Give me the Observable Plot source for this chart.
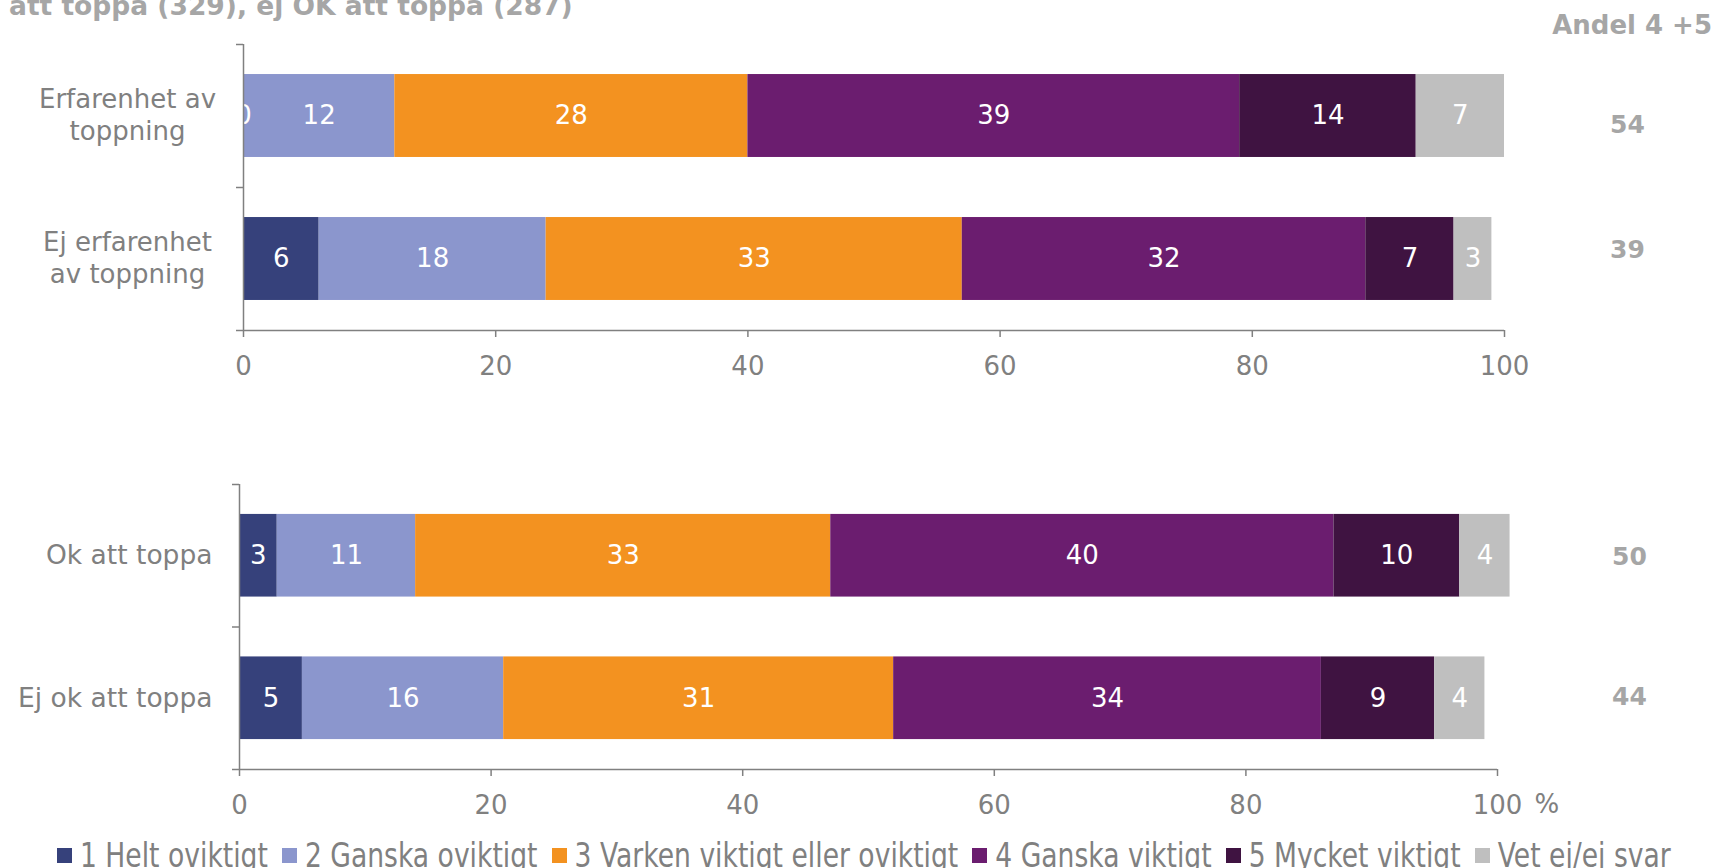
<!DOCTYPE html>
<html><head><meta charset="utf-8">
<script src="https://cdn.jsdelivr.net/npm/d3@7"></script>
<script src="https://cdn.jsdelivr.net/npm/@observablehq/plot@0.6"></script>
<style>
html,body{margin:0;padding:0;background:#fff;}
#root{position:relative;width:1715px;height:868px;overflow:hidden;font-family:"DejaVu Sans",Verdana,sans-serif;background:#fff;}
#title{position:absolute;left:9px;top:-9px;font-size:26.5px;line-height:30px;font-weight:bold;color:#a6a6a6;white-space:nowrap;}
#andel{position:absolute;right:3px;top:10px;font-size:26px;line-height:30px;font-weight:bold;color:#a6a6a6;white-space:nowrap;}
#top{position:absolute;left:0;top:0;}
#bottom{position:absolute;left:0;top:430px;}
#legend{position:absolute;left:57px;top:840px;height:30px;display:flex;align-items:center;white-space:nowrap;color:#808080;font-size:26.6px;}
.item{display:flex;align-items:center;margin-right:14px;}
.sw{width:15px;height:15px;margin-right:8px;flex:none;}
.lt{display:inline-block;transform:scaleY(1.3);transform-origin:center;line-height:30px;}
</style></head>
<body>
<div id="root">
  <div id="title">att toppa (329), ej OK att toppa (287)</div>
  <div id="andel">Andel 4 +5</div>
  <div id="top"></div>
  <div id="bottom"></div>
  <div id="legend"></div>
</div>
<script>
// ---- data ----
const groupsTop = ["Erfarenhet av\ntoppning", "Ej erfarenhet\nav toppning"];
const groupsBottom = ["Ok att toppa", "Ej ok att toppa"];
const levels = ["1 Helt oviktigt", "2 Ganska oviktigt", "3 Varken viktigt eller oviktigt", "4 Ganska viktigt", "5 Mycket viktigt", "Vet ej/ej svar"];
const colors = ["#36417b", "#8b96cd", "#f39220", "#6b1d6f", "#3f1341", "#bfbfbf"];
// values: [Erfarenhet, Ej erfarenhet, Ok att toppa, Ej ok att toppa]
const heltOviktigt   = [0, 6, 3, 5];
const ganskaOviktigt = [12, 18, 11, 16];
const varken         = [28, 33, 33, 31];
const ganskaViktigt  = [39, 32, 40, 34];
const mycketViktigt  = [14, 7, 10, 9];
const vetEj          = [7, 3, 4, 4];
const andel45        = [54, 39, 50, 44];
const xTicks = [0, 20, 40, 60, 80, 100];

const series = [heltOviktigt, ganskaOviktigt, varken, ganskaViktigt, mycketViktigt, vetEj];
const GREY = "#808080";

function panel(groups, offset, opts) {
  const rows = [];
  groups.forEach((g, r) => {
    let cum = 0;
    levels.forEach((lv, li) => {
      const v = series[li][offset + r];
      rows.push({row: r, level: lv, value: v, x1: cum, x2: cum + v});
      cum += v;
    });
  });
  const andelRows = groups.map((g, r) => ({row: r, v: andel45[offset + r]}));
  const labelMark = opts.center
    ? Plot.text(groups, {y: (d, i) => i + 0.5, text: d => d, frameAnchor: "left", dx: opts.labelDx, dy: -2, textAnchor: "middle", lineHeight: 1.23, fill: GREY})
    : Plot.text(groups, {y: (d, i) => i + 0.5, text: d => d, frameAnchor: "left", dx: opts.labelDx, textAnchor: "end", fill: GREY, fontSize: 26.5});
  const marks = [
    Plot.rect(rows, {x1: "x1", x2: "x2", y1: d => d.row + 0.21, y2: d => d.row + 0.79, fill: "level"}),
    Plot.text(rows, {x: d => (d.x1 + d.x2) / 2, y: d => d.row + 0.5, text: d => String(d.value), fill: "white", fontSize: 26}),
    labelMark,
    Plot.text(andelRows, {y: d => d.row + 0.5 + (d.row === 0 ? opts.andelShift : -opts.andelShift), text: d => String(d.v), frameAnchor: "right", textAnchor: "middle", dx: opts.andelDx, fill: "#a6a6a6", fontWeight: "bold", fontSize: 25}),
    Plot.axisX({ticks: xTicks, tickSize: 7, tickPadding: 19, stroke: GREY, strokeWidth: 1.5, fill: GREY}),
    Plot.axisY({ticks: d3.range(groups.length + 1), tickSize: 7, tickFormat: () => "", stroke: GREY, strokeWidth: 1.5}),
    Plot.ruleX([0], {stroke: GREY, strokeWidth: 1.5}),
    Plot.ruleY([groups.length], {stroke: GREY, strokeWidth: 1.5})
  ];
  if (opts.percent) {
    marks.push(Plot.text(["%"], {text: d => d, frameAnchor: "bottom-right", dx: 37, dy: 43, textAnchor: "start", fill: GREY}));
  }
  return Plot.plot({
    width: 1715, height: 400,
    marginLeft: opts.ml, marginRight: opts.mr, marginTop: opts.mt, marginBottom: opts.mb,
    style: {fontFamily: "DejaVu Sans", fontSize: "26px", color: GREY, background: "transparent", overflow: "visible"},
    x: {domain: [0, 100]},
    y: {domain: [0, groups.length], reverse: true},
    color: {domain: levels, range: colors},
    marks
  });
}

document.getElementById("top").appendChild(panel(groupsTop, 0, {ml: 243, mr: 211, mt: 44, mb: 70, center: true, labelDx: -116, andelDx: 123, andelShift: 0.06}));
document.getElementById("bottom").appendChild(panel(groupsBottom, 2, {ml: 239, mr: 218, mt: 54, mb: 61, center: false, labelDx: -27, andelDx: 132, andelShift: 0.01, percent: true}));

const legend = document.getElementById("legend");
levels.forEach((lv, i) => {
  const it = document.createElement("div");
  it.className = "item";
  const sw = document.createElement("div");
  sw.className = "sw";
  sw.style.background = colors[i];
  const t = document.createElement("span");
  t.className = "lt";
  t.textContent = lv;
  it.appendChild(sw); it.appendChild(t);
  legend.appendChild(it);
});
</script>
</body></html>
